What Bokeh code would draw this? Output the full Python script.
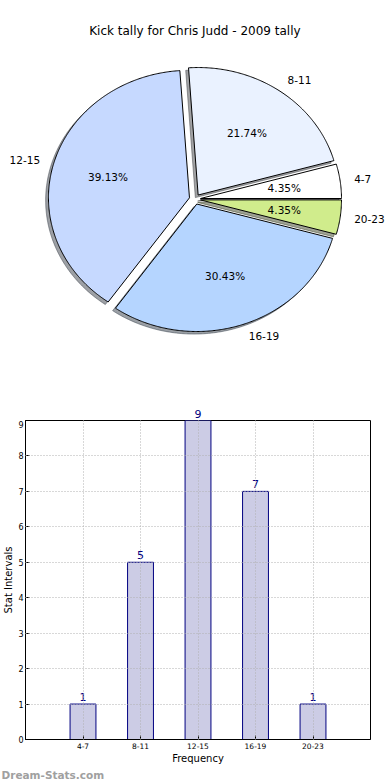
import numpy as np
from bokeh.plotting import figure
from bokeh.layouts import column
from bokeh.models import Range1d, FixedTicker, ColumnDataSource, Label, LabelSet, Title
from bokeh.core.properties import value
from bokeh.embed import file_html
from bokeh.resources import INLINE

# ---------------- data ----------------
title_text = "Kick tally for Chris Judd - 2009 tally"
categories = ["4-7", "8-11", "12-15", "16-19", "20-23"]
counts = [1, 5, 9, 7, 1]
pie_colors = ["#ffffff", "#eaf2ff", "#c6d9ff", "#b5d5ff", "#d0ec8c"]
x_label = "Frequency"
y_label = "Stat Intervals"
y_ticks = [0, 1, 2, 3, 4, 5, 6, 7, 8, 9]
watermark = "Dream-Stats.com"

FONT = "DejaVu Sans"
EXPLODE = 0.04
SHADOW = 0.02

# ---------------- pie ----------------
total = float(sum(counts))
fracs = np.array(counts) / total
edges = np.concatenate([[0.0], np.cumsum(fracs)]) * 2 * np.pi

PIE_H = 398
pie = figure(width=390, height=PIE_H,
             x_range=Range1d(-1.3787, 1.3872),
             y_range=Range1d((198.7 - PIE_H) / 127.5, 1.5584),
             output_backend="svg", toolbar_location=None,
             x_axis_location=None, y_axis_location=None, min_border=0)
pie.grid.visible = False
pie.outline_line_color = None
pie.background_fill_color = "white"
pie.border_fill_color = "white"


def dark(hexcol, rho=0.3):
    h = hexcol.lstrip("#")
    r, g, b = (int(h[k:k + 2], 16) for k in (0, 2, 4))
    return "#%02x%02x%02x" % (int(r * rho), int(g * rho), int(b * rho))


pxs, pys, pfill, pfa, plc, pla = [], [], [], [], [], []
for i, col in enumerate(pie_colors):
    t1, t2 = edges[i], edges[i + 1]
    mid = 0.5 * (t1 + t2)
    ox, oy = EXPLODE * np.cos(mid), EXPLODE * np.sin(mid)
    t = np.linspace(t1, t2, max(10, int(np.degrees(t2 - t1) * 2)))
    wx = np.concatenate([[ox], ox + np.cos(t)])
    wy = np.concatenate([[oy], oy + np.sin(t)])
    sc = dark(col)
    pxs.append(list(wx - SHADOW)); pys.append(list(wy - SHADOW))
    pfill.append(sc); pfa.append(0.5); plc.append(sc); pla.append(0.5)
    pxs.append(list(wx)); pys.append(list(wy))
    pfill.append(col); pfa.append(1.0); plc.append("black"); pla.append(1.0)

    lx = ox + 1.1 * np.cos(mid)
    ly = oy + 1.1 * np.sin(mid)
    pie.add_layout(Label(x=lx, y=ly, text=categories[i],
                         text_align="left" if lx > 0 else "right",
                         text_baseline="middle", text_font=FONT,
                         text_font_size="10.5px", text_color="black"))
    qx = ox + 0.6 * np.cos(mid)
    qy = oy + 0.6 * np.sin(mid)
    pie.add_layout(Label(x=qx, y=qy, text="%.2f%%" % (fracs[i] * 100),
                         text_align="center", text_baseline="middle",
                         text_font=FONT, text_font_size="10.5px",
                         text_color="black"))

psrc = ColumnDataSource(dict(xs=pxs, ys=pys, fill=pfill, fa=pfa, lc=plc, la=pla))
pie.patches("xs", "ys", source=psrc, fill_color="fill", fill_alpha="fa",
            line_color="lc", line_alpha="la", line_width=1)

pie.add_layout(Label(x=0.0, y=1.323, text=title_text, text_align="center",
                     text_baseline="middle", text_font=FONT,
                     text_font_size="12px", text_color="black"))

# ---------------- bar ----------------
xs_idx = list(range(len(categories)))
BAR_H = 780 - PIE_H - 22
FRAME_H = BAR_H - 41
bar = figure(width=390, height=BAR_H,
             x_range=Range1d(-1, len(categories)), y_range=Range1d(y_ticks[0], y_ticks[-1]),
             output_backend="svg", toolbar_location=None,
             min_border_left=0, min_border_right=20,
             min_border_top=0, min_border_bottom=40)
bar.title.visible = False
bar.background_fill_color = "white"
bar.border_fill_color = "white"
bar.outline_line_color = "black"
bar.outline_line_width = 1
bar.outline_line_alpha = 1.0

bsrc = ColumnDataSource(dict(x=xs_idx, cat=categories, count=counts,
                             lbl=[str(c) for c in counts]))
bar.vbar(x="x", top="count", width=0.45, bottom=0, source=bsrc,
         fill_color="#ccccE5", line_color="#000080", line_width=1)

bar.xaxis.ticker = FixedTicker(ticks=xs_idx)
bar.xaxis.major_label_overrides = {i: c for i, c in enumerate(categories)}
bar.yaxis.ticker = FixedTicker(ticks=y_ticks)
bar.xaxis.axis_label = x_label
bar.yaxis.axis_label = y_label

for ax in bar.axis:
    ax.axis_line_color = "black"
    ax.major_tick_in = 4
    ax.major_tick_out = 0
    ax.minor_tick_in = 0
    ax.minor_tick_out = 0
    ax.major_tick_line_color = "black"
    ax.major_label_text_font = FONT
    ax.major_label_text_color = "black"
    ax.axis_label_text_font = FONT
    ax.axis_label_text_font_size = "10px"
    ax.axis_label_text_font_style = "normal"
    ax.axis_label_text_color = "black"
    ax.axis_label_standoff = 1

bar.xaxis.major_label_text_font_size = "7.5px"
bar.yaxis.major_label_text_font_size = "8px"
bar.xaxis.major_label_standoff = 3
bar.yaxis.major_label_standoff = 2

bar.xgrid.ticker = FixedTicker(ticks=xs_idx)
bar.ygrid.ticker = FixedTicker(ticks=y_ticks[1:-1])
for g in bar.grid:
    g.grid_line_color = "#b0b0b0"
    g.grid_line_dash = "1 2"
    g.grid_line_width = 1
    g.level = "overlay"

# value labels: those at the top of the y range go in the strip above the frame
ymax = y_ticks[-1]
inside = [i for i, c in enumerate(counts) if c < ymax]
on_top = [i for i, c in enumerate(counts) if c >= ymax]
src_in = ColumnDataSource(dict(x=[xs_idx[i] for i in inside],
                               y=[counts[i] for i in inside],
                               lbl=[str(counts[i]) for i in inside]))
src_top = ColumnDataSource(dict(x=[xs_idx[i] for i in on_top],
                                y=[counts[i] for i in on_top],
                                lbl=[str(counts[i]) for i in on_top]))
label_style = dict(x="x", y="y", text="lbl", y_offset=3, text_align="center",
                   text_baseline="bottom", text_color="#000080",
                   text_font=value(FONT), text_font_size="11px")
bar.add_layout(LabelSet(source=src_in, **label_style))

bar.add_layout(Title(text=watermark, align="left", offset=-24, standoff=0,
                     text_font=FONT, text_font_size="10.5px",
                     text_font_style="bold", text_color="#a0a0a0"), "below")

STRIP_H = 22
strip = figure(width=390, height=STRIP_H, x_range=bar.x_range,
               y_range=Range1d(ymax, ymax + STRIP_H * (ymax - y_ticks[0]) / FRAME_H),
               output_backend="svg", toolbar_location=None,
               x_axis_location=None, y_axis_location=None,
               min_border=0, min_border_right=20)
strip.grid.visible = False
strip.outline_line_color = None
strip.background_fill_color = "white"
strip.border_fill_color = "white"
strip.add_layout(LabelSet(source=src_top, **label_style))

p = [pie, column(strip, bar)]
open("out.html", "w").write(file_html(p, INLINE))
